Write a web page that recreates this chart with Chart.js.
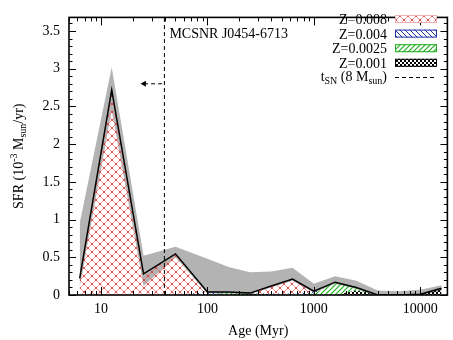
<!DOCTYPE html>
<html>
<head>
<meta charset="utf-8">
<script src="https://cdn.jsdelivr.net/npm/chart.js@4.4.1/dist/chart.umd.min.js"></script>
<style>
  html, body { margin: 0; padding: 0; background: #fff; }
  #sfh { display: block; }
</style>
</head>
<body>
<canvas id="sfh" width="453" height="340"></canvas>
<script>
// age bins (Myr)
const ages = [6.3, 12.6, 25.1, 50.1, 100, 158, 251, 398, 631, 1000, 1585, 2512, 3981, 6310, 10000, 15849];
// SFR per metallicity (10^-3 Msun/yr), stacked bottom -> top
const sfrZ001  = [0, 0, 0, 0, 0, 0.005, 0.02, 0.01, 0, 0, 0, 0.06, 0, 0, 0.01, 0.09];
const sfrZ0025 = [0, 0, 0, 0, 0, 0.03, 0.005, 0, 0, 0.02, 0.17, 0.04, 0, 0, 0, 0];
const sfrZ004  = [0, 0, 0, 0, 0.04, 0.005, 0, 0.01, 0.02, 0.02, 0, 0, 0, 0, 0, 0];
const sfrZ008  = [0.22, 2.72, 0.28, 0.545, 0, 0, 0, 0.10, 0.19, 0.01, 0, 0, 0, 0, 0, 0];
// total SFR error band
const sfrLow  = [0.10, 2.45, 0.12, 0.50, 0.02, 0.02, 0.01, 0.10, 0.19, 0.03, 0.15, 0.08, 0, 0, 0, 0.05];
const sfrHigh = [0.95, 3.02, 0.52, 0.64, 0.48, 0.37, 0.30, 0.31, 0.36, 0.15, 0.25, 0.19, 0.06, 0.05, 0.07, 0.13];

const tSN = 39.4;      // lifetime of an 8 Msun star (Myr)
const arrowTo = 25.4;
const arrowY = 2.8;
const remnant = 'MCSNR J0454-6713';
const legendLabels = ['Z=0.008', 'Z=0.004', 'Z=0.0025', 'Z=0.001'];
const xTicks = [10, 100, 1000, 10000];
const yTicks = [0, 0.5, 1, 1.5, 2, 2.5, 3, 3.5];
const xMin = 5, xMax = 18000, yMax = 3.68;

const FONT = '"Liberation Serif", "Times New Roman", serif';
const canvas = document.getElementById('sfh');
const ctx0 = canvas.getContext('2d');

function makePattern(size, draw) {
  const c = document.createElement('canvas');
  c.width = c.height = size;
  const g = c.getContext('2d');
  draw(g, size);
  return ctx0.createPattern(c, 'repeat');
}

const patRed = makePattern(8, (g, s) => {
  g.strokeStyle = '#e86a6a';
  g.lineWidth = 0.7;
  g.beginPath();
  g.moveTo(-1, -1); g.lineTo(s + 1, s + 1);
  g.moveTo(s + 1, -1); g.lineTo(-1, s + 1);
  g.stroke();
  g.fillStyle = '#cc2222';
  g.fillRect(3.25, 3.25, 1.5, 1.5);
  g.fillRect(-0.75, -0.75, 1.5, 1.5); g.fillRect(s - 0.75, -0.75, 1.5, 1.5);
  g.fillRect(-0.75, s - 0.75, 1.5, 1.5); g.fillRect(s - 0.75, s - 0.75, 1.5, 1.5);
});
const patBlue = makePattern(5, (g, s) => {
  g.strokeStyle = '#2233aa';
  g.lineWidth = 1;
  g.beginPath();
  g.moveTo(-1, -1); g.lineTo(s + 1, s + 1);
  g.moveTo(-1, -1 - s); g.lineTo(s + 1, 1);
  g.moveTo(-1, s - 1); g.lineTo(1, s + 1);
  g.stroke();
});
const patGreen = makePattern(5, (g, s) => {
  g.strokeStyle = '#22b022';
  g.lineWidth = 1.2;
  g.beginPath();
  g.moveTo(-1, s + 1); g.lineTo(s + 1, -1);
  g.moveTo(-1, 1); g.lineTo(1, -1);
  g.moveTo(s - 1, s + 1); g.lineTo(s + 1, s - 1);
  g.stroke();
});
const patBlack = makePattern(4, (g) => {
  g.fillStyle = '#000';
  g.fillRect(0, 0, 2, 2);
  g.fillRect(2, 2, 2, 2);
});

const pts = ys => ages.map((a, i) => ({ x: a, y: ys[i] }));
const stack1 = sfrZ001.slice();
const stack2 = stack1.map((v, i) => v + sfrZ0025[i]);
const stack3 = stack2.map((v, i) => v + sfrZ004[i]);
const stack4 = stack3.map((v, i) => v + sfrZ008[i]);

const none = 'rgba(0,0,0,0)';

// rich text: segments [text, 'sub'|'sup'|undefined]
function richWidth(ctx, segs) {
  let w = 0;
  segs.forEach(([t, k]) => {
    ctx.font = (k ? '10px ' : '14px ') + FONT;
    w += ctx.measureText(t).width;
  });
  return w;
}
function richDraw(ctx, segs, x, y) {
  segs.forEach(([t, k]) => {
    ctx.font = (k ? '10px ' : '14px ') + FONT;
    const dy = k === 'sub' ? 3 : k === 'sup' ? -6 : 0;
    ctx.fillText(t, x, y + dy);
    x += ctx.measureText(t).width;
  });
}

const decor = {
  id: 'decor',
  afterDraw(chart) {
    const ctx = chart.ctx;
    const { left, right, top, bottom } = chart.chartArea;
    const xs = chart.scales.x, ys = chart.scales.y;
    ctx.save();
    ctx.strokeStyle = '#000';
    ctx.fillStyle = '#000';

    // ticks, inward on all four sides
    ctx.lineWidth = 1;
    ctx.beginPath();
    for (let i = 0; i <= 36; i++) {
      const y = Math.round(ys.getPixelForValue(i / 10)) + 0.5;
      const len = i % 5 === 0 ? 7 : 3.5;
      ctx.moveTo(left, y); ctx.lineTo(left + len, y);
      ctx.moveTo(right, y); ctx.lineTo(right - len, y);
    }
    for (let d = 1; d <= 10000; d *= 10) {
      for (let m = 1; m <= 9; m++) {
        const v = d * m;
        if (v < xMin || v > xMax) continue;
        const x = Math.round(xs.getPixelForValue(v)) + 0.5;
        const len = m === 1 ? 8 : 4;
        ctx.moveTo(x, bottom); ctx.lineTo(x, bottom - len);
        ctx.moveTo(x, top); ctx.lineTo(x, top + len);
      }
    }
    ctx.stroke();

    // frame
    ctx.lineWidth = 1.6;
    ctx.strokeRect(left, top, right - left, bottom - top);

    // remnant name
    ctx.font = '14px ' + FONT;
    ctx.textBaseline = 'alphabetic';
    ctx.textAlign = 'left';
    ctx.fillText(remnant, xs.getPixelForValue(tSN) + 5, 38);

    // legend
    const pats = [patRed, patBlue, patGreen, patBlack];
    const edges = ['#f4b0b0', '#2233aa', '#22b022', '#000'];
    const tx = 387, bx = 395, bw = 42;
    legendLabels.forEach((lab, i) => {
      const cy = 19 + i * 14.6;
      ctx.font = '14px ' + FONT;
      ctx.textAlign = 'right';
      ctx.fillText(lab, tx, cy + 5);
      ctx.fillStyle = '#fff';
      ctx.fillRect(bx, cy - 4, bw, 8);
      ctx.fillStyle = pats[i];
      ctx.fillRect(bx, cy - 4, bw, 8);
      ctx.strokeStyle = edges[i];
      ctx.lineWidth = 1;
      ctx.strokeRect(bx + 0.5, cy - 3.5, bw - 1, 7);
      ctx.fillStyle = '#000';
    });
    const tsn = [['t'], ['SN', 'sub'], [' (8 M'], ['sun', 'sub'], [')']];
    ctx.textAlign = 'left';
    const cyT = 19 + 4 * 14.6;
    richDraw(ctx, tsn, tx - richWidth(ctx, tsn), cyT + 4);
    ctx.strokeStyle = '#000';
    ctx.lineWidth = 1;
    ctx.setLineDash([4, 3]);
    ctx.beginPath();
    ctx.moveTo(bx, Math.round(cyT) + 0.5); ctx.lineTo(bx + bw, Math.round(cyT) + 0.5);
    ctx.stroke();
    ctx.setLineDash([]);

    // axis titles
    ctx.font = '14px ' + FONT;
    ctx.textAlign = 'center';
    ctx.fillText('Age (Myr)', (left + right) / 2, 335);

    const ytitle = [['SFR (10'], ['-3', 'sup'], [' M'], ['sun', 'sub'], ['/yr)']];
    ctx.save();
    ctx.translate(23, (top + bottom) / 2);
    ctx.rotate(-Math.PI / 2);
    ctx.textAlign = 'left';
    richDraw(ctx, ytitle, -richWidth(ctx, ytitle) / 2, 0);
    ctx.restore();

    ctx.restore();
  }
};

new Chart(canvas, {
  type: 'line',
  data: {
    datasets: [
      { data: pts(sfrLow), borderColor: none, borderWidth: 0, fill: false, order: 10 },
      { data: pts(sfrHigh), borderColor: none, borderWidth: 0, fill: '-1', backgroundColor: '#b3b3b3', order: 9 },
      { data: pts(stack1), borderColor: none, borderWidth: 0, fill: 'origin', backgroundColor: patBlack, order: 8 },
      { data: pts(stack2), borderColor: none, borderWidth: 0, fill: '-1', backgroundColor: patGreen, order: 7 },
      { data: pts(stack3), borderColor: none, borderWidth: 0, fill: '-1', backgroundColor: patBlue, order: 6 },
      { data: pts(stack4), borderColor: '#000', borderWidth: 1.5, fill: '-1', backgroundColor: patRed, order: 5 },
      { data: [{ x: tSN, y: 0 }, { x: tSN, y: yMax }], borderColor: '#000', borderWidth: 1, borderDash: [4, 3], fill: false, order: 2 },
      { data: [{ x: arrowTo, y: arrowY }, { x: tSN, y: arrowY }], borderColor: '#000', borderWidth: 1, borderDash: [4, 3], fill: false, order: 1,
        pointStyle: 'triangle', pointRotation: -90, pointRadius: [3.5, 0], pointBackgroundColor: '#000', pointBorderColor: '#000', pointBorderWidth: 0 }
    ]
  },
  options: {
    responsive: false,
    animation: false,
    devicePixelRatio: 1,
    layout: { padding: { left: 0, top: 7, right: 5.6, bottom: 0 } },
    elements: { point: { radius: 0, hoverRadius: 0 }, line: { tension: 0 } },
    plugins: { legend: { display: false }, tooltip: { enabled: false } },
    scales: {
      x: {
        type: 'logarithmic', min: xMin, max: xMax,
        grid: { display: false, drawTicks: false }, border: { display: false },
        afterBuildTicks: s => { s.ticks = xTicks.map(v => ({ value: v })); },
        afterFit: s => { s.height = 45; },
        ticks: { color: '#000', font: { family: FONT, size: 14 }, padding: 6, maxRotation: 0, autoSkip: false,
          callback: v => String(v) }
      },
      y: {
        min: 0, max: yMax,
        grid: { display: false, drawTicks: false }, border: { display: false },
        afterBuildTicks: s => { s.ticks = yTicks.map(v => ({ value: v })); },
        afterFit: s => { s.width = 69; },
        ticks: { color: '#000', font: { family: FONT, size: 14 }, padding: 9, callback: v => String(v) }
      }
    }
  },
  plugins: [decor]
});
</script>
</body>
</html>
